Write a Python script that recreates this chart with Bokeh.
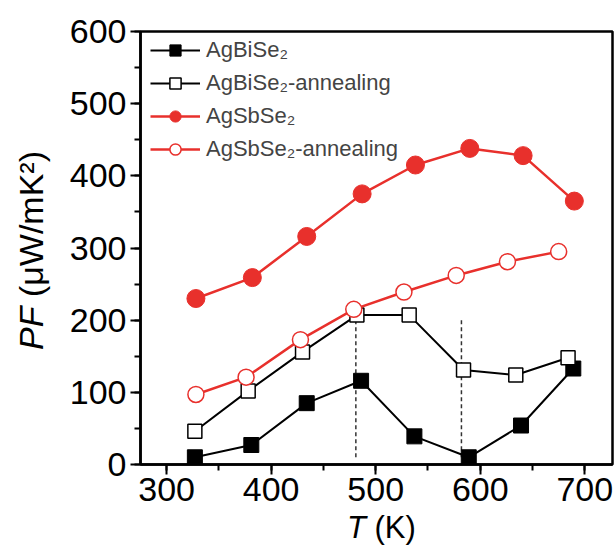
from bokeh.plotting import figure
from bokeh.models import Legend, LegendItem, SingleIntervalTicker, Range1d, Div
from bokeh.layouts import row, column
from bokeh.embed import file_html
from bokeh.resources import INLINE

# ---- data ----
T_bi = [327, 381, 434, 486, 537, 589, 639, 689]
PF_bi = [10, 27, 85, 116, 39, 10, 54, 133]
T_bi_ann = [327, 378, 430, 482, 532, 584, 634, 684]
PF_bi_ann = [46, 102, 156, 207, 207, 131, 124, 148]
T_sb = [328, 382, 434, 487, 538, 590, 641, 690]
PF_sb = [230, 259, 316, 375, 415, 438, 428, 365]
T_sb_ann = [328, 376, 428, 479, 527, 577, 626, 675]
PF_sb_ann = [97, 121, 173, 215, 239, 262, 281, 295]
T_dash = [481, 582]
PF_dash_lo = [10, 10]
PF_dash_hi = [207, 203]
x_ticks_interval = 100
y_ticks_interval = 100

RED = "#e8302c"
FONT = "Liberation Sans"

p = figure(width=554, height=518, x_range=Range1d(275, 726.5), y_range=Range1d(0, 600),
           output_backend="svg", toolbar_location=None,
           min_border_left=80, min_border_right=2, min_border_top=31, min_border_bottom=54)
p.xgrid.visible = False
p.ygrid.visible = False
p.outline_line_color = "black"
p.outline_line_width = 2.5
p.background_fill_color = "white"
p.border_fill_color = "white"

p.xaxis.ticker = SingleIntervalTicker(interval=x_ticks_interval, num_minor_ticks=2)
p.yaxis.ticker = SingleIntervalTicker(interval=y_ticks_interval, num_minor_ticks=2)
for ax in (p.xaxis[0], p.yaxis[0]):
    ax.axis_line_width = 2.5
    ax.axis_line_color = "black"
    ax.major_tick_line_width = 2
    ax.minor_tick_line_width = 2
    ax.major_tick_out = 10
    ax.major_tick_in = 0
    ax.minor_tick_out = 6
    ax.minor_tick_in = 0
    ax.major_label_text_font = FONT
    ax.major_label_text_font_size = "34px"
    ax.major_label_text_color = "black"
p.xaxis.major_label_standoff = 3
p.yaxis.major_label_standoff = 4

# dashed guides
p.segment(x0=T_dash, y0=PF_dash_lo, x1=T_dash, y1=PF_dash_hi, line_color="#333333",
          line_width=1.5, line_dash="4 3")

r1l = p.line(T_bi, PF_bi, line_color="black", line_width=2)
r1s = p.scatter(T_bi, PF_bi, marker="square", size=15, fill_color="black", line_color="black")
r2l = p.line(T_bi_ann, PF_bi_ann, line_color="black", line_width=2)
r2s = p.scatter(T_bi_ann, PF_bi_ann, marker="square", size=14, fill_color="white",
                line_color="black", line_width=1.5)
r3l = p.line(T_sb, PF_sb, line_color=RED, line_width=2.5)
r3s = p.scatter(T_sb, PF_sb, marker="circle", size=18, fill_color=RED, line_color=RED)
r4l = p.line(T_sb_ann, PF_sb_ann, line_color=RED, line_width=2.5)
r4s = p.scatter(T_sb_ann, PF_sb_ann, marker="circle", size=16, fill_color="white",
                line_color=RED, line_width=1.5)

legend = Legend(items=[
    LegendItem(label="AgBiSe\u2082", renderers=[r1l, r1s]),
    LegendItem(label="AgBiSe\u2082-annealing", renderers=[r2l, r2s]),
    LegendItem(label="AgSbSe\u2082", renderers=[r3l, r3s]),
    LegendItem(label="AgSbSe\u2082-annealing", renderers=[r4l, r4s]),
])
legend.location = (10, 301)
legend.padding = 0
legend.margin = 0
legend.spacing = 5
legend.glyph_width = 50
legend.glyph_height = 28
legend.label_height = 28
legend.label_standoff = 6
legend.label_text_font = FONT
legend.label_text_font_size = "22px"
legend.border_line_color = None
legend.background_fill_alpha = 0
p.add_layout(legend)

# axis titles with mixed italic, as HTML text
def style(size):
    return (f"font-family:'Liberation Sans'; font-size:{size}px; line-height:{size}px; "
            "color:black; white-space:nowrap; width:max-content; transform-origin:0 0;")

ydiv = Div(width=60, height=546, margin=0,
           text=f'<div style="{style(34)} transform:translate(14px,350px) rotate(-90deg);">'
                '<i>PF</i> (\u03bcW/mK\u00b2)</div>')
xdiv = Div(width=554, height=28, margin=0,
           text=f'<div style="{style(31)} transform:translate(287px,-6px);">'
                '<i>T</i> (K)</div>')

layout = row(ydiv, column(p, xdiv))
open("out.html", "w").write(file_html(layout, INLINE))
